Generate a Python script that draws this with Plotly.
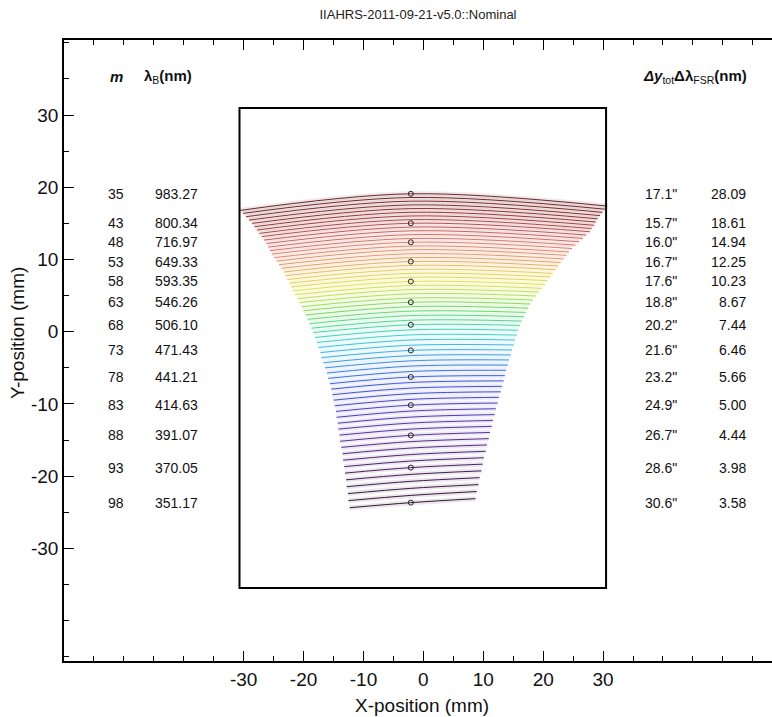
import plotly.graph_objects as go
from plotly.colors import find_intermediate_color, hex_to_rgb

# ---------------- data ----------------
orders = list(range(35, 99))

# order centre (at blaze x) y-position in mm
y_center = [19.10, 18.59, 18.08, 17.56, 17.05, 16.54, 16.03, 15.52, 15.02, 14.49,
            13.97, 13.44, 12.91, 12.39, 11.86, 11.34, 10.80, 10.26, 9.72, 9.18,
            8.62, 8.08, 7.53, 6.96, 6.39, 5.83, 5.25, 4.66, 4.08, 3.47,
            2.85, 2.23, 1.59, 0.96, 0.26, -0.44, -1.15, -1.87, -2.59, -3.31,
            -4.03, -4.76, -5.51, -6.27, -7.03, -7.81, -8.58, -9.37, -10.17, -10.99,
            -11.82, -12.65, -13.49, -14.35, -15.22, -16.11, -17.01, -17.91, -18.82, -19.76,
            -20.72, -21.69, -22.67, -23.67]

# x of the two ends of every order (mm)
x_left = [-30.6, -30.1, -29.6, -29.1, -28.6, -28.2, -27.8, -27.4, -27.0, -26.6,
          -26.2, -25.9, -25.6, -25.3, -24.9, -24.5, -24.1, -23.7, -23.3, -23.0,
          -22.7, -22.4, -22.1, -21.8, -21.4, -21.0, -20.7, -20.3, -20.0, -19.7,
          -19.3, -19.0, -18.7, -18.4, -18.1, -17.8, -17.5, -17.2, -17.0, -16.7,
          -16.4, -16.1, -15.9, -15.6, -15.4, -15.2, -15.0, -14.8, -14.6, -14.5,
          -14.3, -14.2, -14.0, -13.9, -13.7, -13.5, -13.4, -13.2, -13.1, -12.9,
          -12.8, -12.6, -12.5, -12.3]
x_right = [30.7, 30.3, 29.9, 29.5, 29.1, 28.8, 28.5, 28.1, 27.8, 27.2,
           26.6, 26.0, 25.4, 24.8, 24.3, 23.9, 23.4, 22.9, 22.5, 22.1,
           21.6, 21.2, 20.7, 20.3, 19.8, 19.3, 18.8, 18.3, 17.8, 17.5,
           17.1, 16.8, 16.4, 16.1, 15.8, 15.6, 15.3, 15.1, 14.8, 14.6,
           14.3, 14.1, 13.8, 13.6, 13.4, 13.1, 12.9, 12.6, 12.4, 12.1,
           11.9, 11.6, 11.4, 11.1, 10.9, 10.6, 10.4, 10.1, 9.9, 9.7,
           9.4, 9.2, 8.9, 8.7]
# how far each end lies below the centre (mm)
drop_left = [2.30, 2.20, 2.15, 2.10, 2.05, 2.00, 1.95, 1.90, 1.85, 1.80,
             1.76, 1.72, 1.68, 1.64, 1.60, 1.56, 1.52, 1.48, 1.45, 1.42,
             1.39, 1.36, 1.33, 1.30, 1.27, 1.25, 1.22, 1.20, 1.18, 1.16,
             1.14, 1.12, 1.10, 1.08, 1.06, 1.05, 1.03, 1.02, 1.00, 0.99,
             0.97, 0.96, 0.95, 0.93, 0.92, 0.91, 0.90, 0.88, 0.87, 0.86,
             0.85, 0.84, 0.83, 0.82, 0.80, 0.79, 0.78, 0.77, 0.76, 0.75,
             0.74, 0.73, 0.72, 0.70]
drop_right = [1.70, 1.62, 1.55, 1.48, 1.41, 1.35, 1.29, 1.23, 1.17, 1.10,
              1.04, 0.98, 0.92, 0.87, 0.82, 0.77, 0.72, 0.67, 0.62, 0.58,
              0.54, 0.50, 0.46, 0.42, 0.38, 0.34, 0.30, 0.27, 0.24, 0.21,
              0.18, 0.15, 0.12, 0.09, 0.06, 0.03, 0.00, -0.03, -0.06, -0.09,
              -0.12, -0.14, -0.17, -0.19, -0.22, -0.24, -0.26, -0.28, -0.30, -0.32,
              -0.34, -0.36, -0.38, -0.40, -0.41, -0.43, -0.45, -0.46, -0.48, -0.49,
              -0.51, -0.52, -0.54, -0.55]
blaze_x = -2.1

label_orders = [35, 43, 48, 53, 58, 63, 68, 73, 78, 83, 88, 93, 98]
lambda_B = ["983.27", "800.34", "716.97", "649.33", "593.35", "546.26", "506.10",
            "471.43", "441.21", "414.63", "391.07", "370.05", "351.17"]
dy_tot = ["17.1", "15.7", "16.0", "16.7", "17.6", "18.8", "20.2",
          "21.6", "23.2", "24.9", "26.7", "28.6", "30.6"]
dl_fsr = ["28.09", "18.61", "14.94", "12.25", "10.23", "8.67", "7.44",
          "6.46", "5.66", "5.00", "4.44", "3.98", "3.58"]

detector_x = [-30.7, 30.5]
detector_y = [-35.5, 31.0]

# ---------------- style ----------------
color_stops = [(35, "#6e2424"), (40, "#9a3434"), (44, "#c45a5a"), (48, "#e08070"),
               (52, "#eaa060"), (55, "#e8cc50"), (58, "#e4e244"), (61, "#b4e050"),
               (64, "#74d860"), (67, "#50d890"), (70, "#40d0d0"), (73, "#40b0e4"),
               (76, "#4080e0"), (79, "#4058d8"), (83, "#5040c0"), (88, "#5a3098"),
               (93, "#4a2060"), (98, "#351535")]


def order_rgb(m):
    for (m0, c0), (m1, c1) in zip(color_stops[:-1], color_stops[1:]):
        if m0 <= m <= m1:
            t = (m - m0) / (m1 - m0)
            r, g, b = find_intermediate_color(hex_to_rgb(c0), hex_to_rgb(c1), t)
            return int(r), int(g), int(b)
    return hex_to_rgb(color_stops[-1][1])


FONT = "Liberation Sans, Arial, sans-serif"

fig = go.Figure()

# faint halo under each order (the soft tint seen between the lines)
for i, m in enumerate(orders):
    yc = y_center[i]
    r, g, b = order_rgb(m)
    fig.add_trace(go.Scatter(
        x=[x_left[i], blaze_x, x_right[i]],
        y=[yc - drop_left[i], yc, yc - drop_right[i]],
        mode="lines", line=dict(color=f"rgba({r},{g},{b},0.10)", width=5, shape="spline"),
        hoverinfo="skip", showlegend=False))

for i, m in enumerate(orders):
    yc = y_center[i]
    r, g, b = order_rgb(m)
    fig.add_trace(go.Scatter(
        x=[x_left[i], blaze_x, x_right[i]],
        y=[yc - drop_left[i], yc, yc - drop_right[i]],
        mode="lines", line=dict(color=f"rgb({r},{g},{b})", width=1, shape="spline"),
        hoverinfo="skip", showlegend=False))

lab_y = [y_center[orders.index(m)] for m in label_orders]
fig.add_trace(go.Scatter(
    x=[blaze_x] * len(label_orders), y=lab_y, mode="markers",
    marker=dict(symbol="circle-open", size=5, color="#222", line=dict(width=1)),
    showlegend=False, hoverinfo="skip"))

fig.add_shape(type="rect", xref="x", yref="y",
              x0=detector_x[0], x1=detector_x[1], y0=detector_y[0], y1=detector_y[1],
              line=dict(color="black", width=2))

L, W, B, H = 64, 708, 661, 621


def px_x(p):
    return (p - L) / W


def px_y(p):
    return (B - p) / H


tfont = dict(family=FONT, size=14, color="#111")
annotations = []
for m, lb, dy, fs, y in zip(label_orders, lambda_B, dy_tot, dl_fsr, lab_y):
    for px, txt, anc in ((106, str(m), "left"), (153, lb, "left"),
                         (643, dy + '"', "left"), (748, fs, "right")):
        annotations.append(dict(
            x=px_x(px), y=y, xref="paper", yref="y", text=txt,
            xanchor=anc, yanchor="middle", showarrow=False, font=tfont))

hfont = dict(family=FONT, size=15, color="#111")
annotations += [
    dict(x=px_x(116), y=px_y(76), xref="paper", yref="paper",
         text="<b><i>m</i></b>", showarrow=False, xanchor="center", yanchor="middle",
         font=hfont),
    dict(x=px_x(142), y=px_y(76), xref="paper", yref="paper",
         text="<b>λ</b><sub>B</sub><b>(nm)</b>", showarrow=False, xanchor="left",
         yanchor="middle", font=hfont),
    dict(x=px_x(641), y=px_y(76), xref="paper", yref="paper",
         text="<b><i>Δy</i></b><sub>tot</sub><b>Δλ</b><sub>FSR</sub><b>(nm)</b>",
         showarrow=False, xanchor="left", yanchor="middle", font=hfont),
    dict(x=px_x(17), y=px_y(333), xref="paper", yref="paper",
         text="Y-position (mm)", textangle=-90, showarrow=False,
         xanchor="center", yanchor="middle", font=dict(family=FONT, size=19, color="#111")),
    dict(x=px_x(422), y=px_y(705), xref="paper", yref="paper",
         text="X-position (mm)", showarrow=False, xanchor="center", yanchor="middle",
         font=dict(family=FONT, size=19, color="#111")),
]

fig.update_layout(
    width=772, height=717,
    margin=dict(l=64, r=0, t=40, b=56),
    paper_bgcolor="white", plot_bgcolor="white",
    title=dict(text="IIAHRS-2011-09-21-v5.0::Nominal", x=418 / 772, xanchor="center",
               y=1 - 14 / 717, yanchor="middle",
               font=dict(family=FONT, size=13, color="#222")),
    annotations=annotations,
    showlegend=False,
)

fig.update_xaxes(
    range=[-60, 58.2], showgrid=False, zeroline=False,
    showline=True, linecolor="black", linewidth=1.5, mirror="ticks",
    ticks="inside", ticklen=10, tickwidth=1, tickcolor="black",
    tickvals=[-30, -20, -10, 0, 10, 20, 30],
    ticktext=["-30", "-20", "-10", "0", "10", "20", "30"],
    tickfont=dict(family=FONT, size=19, color="#111"),
    minor=dict(ticks="inside", ticklen=5, tickwidth=1, tickcolor="black",
               tickmode="linear", tick0=0, dtick=5, showgrid=False),
)
fig.update_yaxes(
    range=[-45.6, 40.4], showgrid=False, zeroline=False,
    showline=True, linecolor="black", linewidth=1.5,
    ticks="inside", ticklen=10, tickwidth=1, tickcolor="black",
    tickvals=[-30, -20, -10, 0, 10, 20, 30],
    ticktext=["-30", "-20", "-10", "0", "10", "20", "30"],
    tickfont=dict(family=FONT, size=19, color="#111"),
    minor=dict(ticks="inside", ticklen=5, tickwidth=1, tickcolor="black",
               tickmode="linear", tick0=0, dtick=5, showgrid=False),
)

fig.write_html("out.html", config={"displayModeBar": False},
               post_script="document.body.style.margin='0px';document.body.style.padding='0px';")
